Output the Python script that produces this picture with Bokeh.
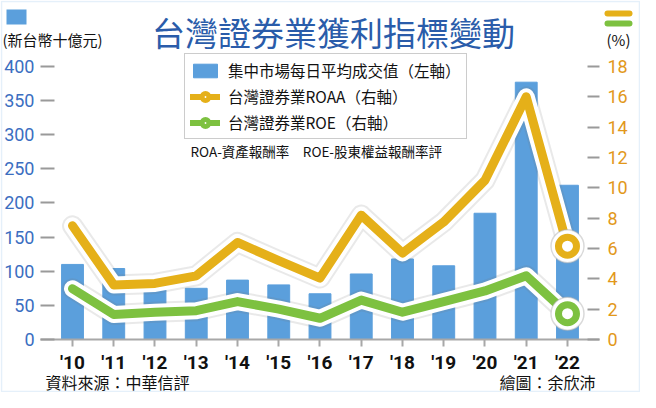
from bokeh.plotting import figure
from bokeh.models import (Range1d, LinearAxis, FixedTicker, Label, Legend, LegendItem,
                          BoxAnnotation, ColumnDataSource)
from bokeh.embed import file_html
from bokeh.resources import INLINE

# ---- data ----
years = ["'10", "'11", "'12", "'13", "'14", "'15", "'16", "'17", "'18", "'19", "'20", "'21", "'22"]
turnover = [110, 104, 74, 75, 87, 80, 67, 96, 118, 108, 185, 377, 226]   # 新台幣十億元 (left)
roaa = [7.5, 3.6, 3.7, 4.2, 6.4, 5.2, 4.05, 8.2, 5.7, 7.75, 10.5, 16.0, 6.15]  # % (right)
roe = [3.35, 1.65, 1.8, 1.9, 2.5, 2.0, 1.4, 2.6, 1.8, 2.5, 3.2, 4.2, 1.7]      # % (right)
left_ticks = [0, 50, 100, 150, 200, 250, 300, 350, 400]
right_ticks = [0, 2, 4, 6, 8, 10, 12, 14, 16, 18]

BLUE = "#5b9fdc"
YEL = "#e5b019"
GRN = "#7dc140"
CJK = "Noto Sans CJK TC"

xs = list(range(len(years)))
src = ColumnDataSource(dict(x=xs, t=turnover, roaa=roaa, roe=roe))

# frame covers the whole canvas; axes are pinned with fixed_location
X0, X1 = -1.7455, 13.770
p = figure(width=640, height=392, output_backend="svg", toolbar_location=None,
           x_range=Range1d(X0, X1), y_range=Range1d(-77.66, 496.70),
           min_border=0, background_fill_color="white", border_fill_color="white")
p.outline_line_color = None
p.grid.grid_line_color = None
p.extra_y_ranges = {"pct": Range1d(-3.4945, 22.352)}

AX_L, AX_R = -0.7758, 12.776

# bars
bars = p.vbar(x="x", top="t", width=0.53, source=src, color=BLUE)

# lines with halo
legend_glyphs = {}
for key, col in (("roaa", YEL), ("roe", GRN)):
    p.line("x", key, source=src, y_range_name="pct", line_color="#777777", line_alpha=0.16,
           line_width=21, line_join="round", line_cap="round")
    p.line("x", key, source=src, y_range_name="pct", line_color="white",
           line_width=17, line_join="round", line_cap="round")
    p.line("x", key, source=src, y_range_name="pct", line_color=col,
           line_width=9, line_join="round", line_cap="round")
    p.scatter([xs[-1]], [src.data[key][-1]], y_range_name="pct", size=33,
              fill_color="white", line_color="#aaaaaa", line_alpha=0.45, line_width=1.5)
    p.scatter([xs[-1]], [src.data[key][-1]], y_range_name="pct", size=18,
              fill_color="white", line_color=col, line_width=7)
    # smaller legend-only glyphs (drawn off-frame, shown only in the legend)
    lg_line = p.line([-50, -49], [0, 0], line_color=col, line_width=6, line_cap="round")
    lg_mk = p.scatter([-50], [0], size=11, fill_color="white", line_color=col, line_width=5)
    legend_glyphs[key] = [lg_line, lg_mk]

# axes
la = p.yaxis[0]
la.fixed_location = AX_L
la.bounds = (0, 400)
la.ticker = FixedTicker(ticks=left_ticks)
la.axis_line_color = None
la.major_tick_in = 14
la.major_tick_out = 0
la.major_tick_line_color = "#9a9a9a"
la.major_tick_line_width = 2
la.minor_tick_line_color = None
la.major_label_standoff = 6
la.major_label_text_font = "Roboto"
la.major_label_text_font_size = "18px"
la.major_label_text_color = "#3b6ec1"

ra = LinearAxis(y_range_name="pct", ticker=FixedTicker(ticks=right_ticks),
                fixed_location=AX_R, bounds=(0, 18))
ra.axis_line_color = None
ra.major_tick_in = 12
ra.major_tick_out = 0
ra.major_tick_line_color = "#9a9a9a"
ra.major_tick_line_width = 2
ra.minor_tick_line_color = None
ra.major_label_standoff = 8
ra.major_label_text_font = "Roboto"
ra.major_label_text_font_size = "18px"
ra.major_label_text_color = "#e2981a"
p.add_layout(ra, "right")

xa = p.xaxis[0]
xa.fixed_location = 0
xa.bounds = (AX_L, AX_R)
xa.ticker = FixedTicker(ticks=xs)
xa.major_label_overrides = {i: y for i, y in enumerate(years)}
xa.axis_line_color = "#a8a8a8"
xa.axis_line_width = 2
xa.major_tick_in = 0
xa.major_tick_out = 7
xa.major_tick_line_color = "#a8a8a8"
xa.major_tick_line_width = 2
xa.minor_tick_line_color = None
xa.major_label_standoff = 5
xa.major_label_text_font = "Roboto"
xa.major_label_text_font_size = "19px"
xa.major_label_text_font_style = "bold"
xa.major_label_text_color = "#111111"

# legend
legend = Legend(items=[
    LegendItem(label="集中市場每日平均成交值（左軸）", renderers=[bars]),
    LegendItem(label="台灣證券業ROAA（右軸）", renderers=legend_glyphs["roaa"]),
    LegendItem(label="台灣證券業ROE（右軸）", renderers=legend_glyphs["roe"]),
], location=(184, 253), orientation="vertical")
legend.label_text_font = CJK
legend.label_text_font_size = "15.5px"
legend.label_text_color = "#111111"
legend.label_width = 222
legend.glyph_width = 30
legend.glyph_height = 17
legend.label_height = 20
legend.spacing = 4
legend.padding = 5
legend.margin = 0
legend.label_standoff = 8
legend.border_line_color = "#9a9a9a"
legend.border_line_width = 1.5
legend.background_fill_color = "white"
legend.background_fill_alpha = 1
p.add_layout(legend, "center")

# texts (screen units: x = page_x - 8, y = 400 - page_y)
def lab(text, x, y, size, color="#111111", font=CJK, align="left"):
    p.add_layout(Label(x=x, y=y, x_units="screen", y_units="screen", text=text,
                       text_font=font, text_font_size=size, text_color=color,
                       text_align=align, text_baseline="middle"))

lab("台灣證券業獲利指標變動", 333, 361, "33px", color="#2a5caa", align="center")
lab("(新台幣十億元)", 2, 353, "15px")
lab("(%)", 618, 353, "15px", align="center")
lab("ROA-資產報酬率　ROE-股東權益報酬率評", 190, 242, "13.5px")
lab("資料來源：中華信評", 45, 11, "16px")
lab("繪圖：余欣沛", 595, 11, "16px", align="right")

# header swatches
def box(l, r, t, b, **kw):
    p.add_layout(BoxAnnotation(left=l, right=r, top=t, bottom=b,
                               left_units="screen", right_units="screen",
                               top_units="screen", bottom_units="screen", **kw))

box(6, 26, 400 - 17, 400 - 32, fill_color=BLUE, fill_alpha=1, line_color=None)
box(604, 632, 400 - 18, 400 - 24, fill_color=YEL, fill_alpha=1, line_color=None, border_radius=3)
box(604, 632, 400 - 28, 400 - 34, fill_color=GRN, fill_alpha=1, line_color=None, border_radius=3)
# outer border
box(1, 639, 391, 1, fill_alpha=0, line_color="#a9cdee", line_width=1.5)

open("out.html", "w").write(file_html(p, INLINE))
